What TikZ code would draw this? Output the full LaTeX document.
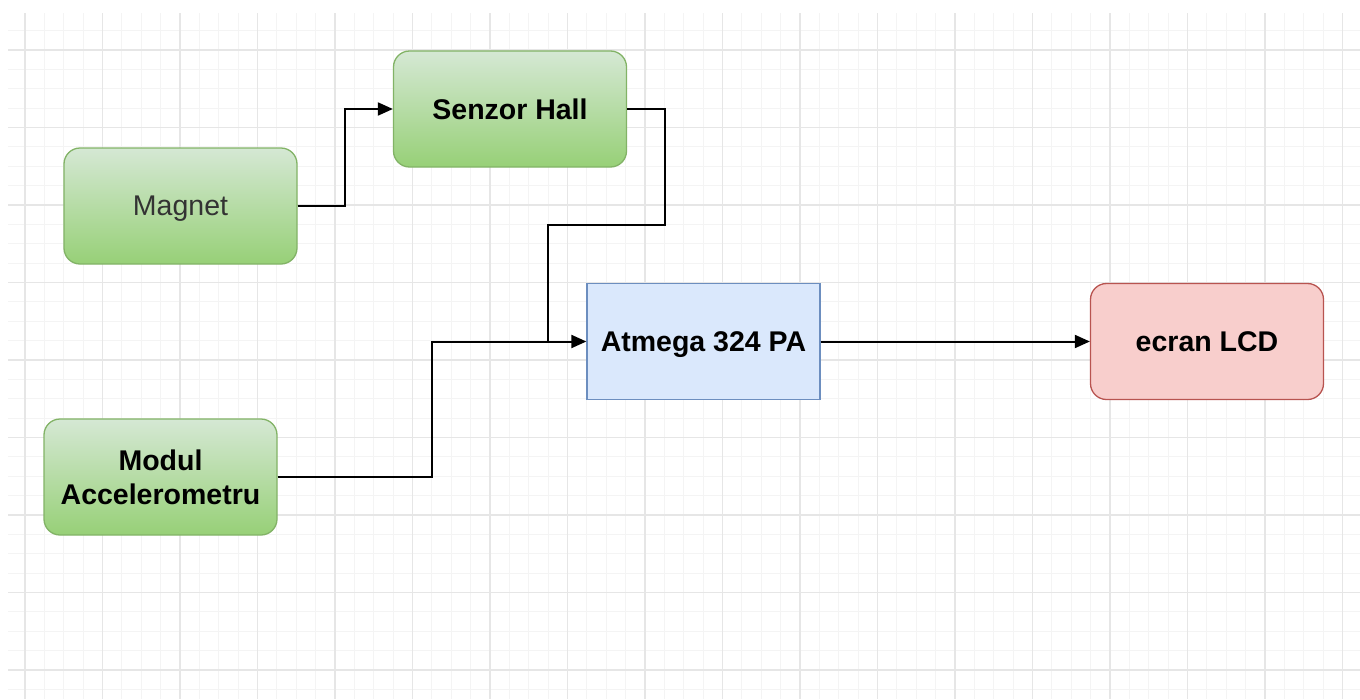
\documentclass[tikz,border=0pt]{standalone}
\usepackage{fontspec}
\setmainfont{Liberation Sans}
\usetikzlibrary{arrows.meta}
\definecolor{gfillA}{HTML}{D5E8D4}
\definecolor{gfillB}{HTML}{97D077}
\definecolor{gline}{HTML}{82B366}
\definecolor{bfill}{HTML}{DAE8FC}
\definecolor{bline}{HTML}{6C8EBF}
\definecolor{rfill}{HTML}{F8CECC}
\definecolor{rline}{HTML}{B85450}
\definecolor{gridminor}{HTML}{F4F4F4}
\definecolor{gridmajor}{HTML}{E6E6E6}
\definecolor{txtgray}{HTML}{333333}
\tikzset{
  box/.style={minimum width=233pt, minimum height=116pt, inner sep=0pt, align=center,
    text depth=0pt, line width=1.3pt, font=\fontsize{28.5}{34}\selectfont\bfseries},
  greenbox/.style={box, rounded corners=16pt, draw=gline, top color=gfillA, bottom color=gfillB},
  bluebox/.style={box, draw=bline, fill=bfill},
  redbox/.style={box, rounded corners=16pt, draw=rline, fill=rfill},
  conn/.style={line width=2pt, draw=black},
  arr/.style={conn, -{Triangle[length=15pt, width=13pt]}},
}
\begin{document}
\begin{tikzpicture}[x=1pt, y=-1pt]
\useasboundingbox (0,0) rectangle (1360,699);
\fill[white] (0,0) rectangle (1360,699);
\begin{scope}
\clip (8,13) rectangle (1360,699);
\foreach \i in {-1,...,72} {
  \draw[gridminor, line width=1pt] ({25+19.375*\i},13) -- ({25+19.375*\i},699);
}
\foreach \i in {-3,...,36} {
  \draw[gridminor, line width=1pt] (8,{50+19.375*\i}) -- (1360,{50+19.375*\i});
}
\foreach \i in {0,...,17} {
  \draw[gridmajor, line width=1.2pt] ({25+77.5*\i},13) -- ({25+77.5*\i},699);
}
\foreach \i in {0,...,8} {
  \draw[gridmajor, line width=1.2pt] (8,{50+77.5*\i}) -- (1360,{50+77.5*\i});
}
\end{scope}

\node[greenbox] (hall) at (510,109) {Senzor Hall};
\node[greenbox, font=\fontsize{28.5}{34}\selectfont\mdseries, text=txtgray] (mag) at (180.5,206) {Magnet};
\node[bluebox] (atm) at (703.5,341.5) {Atmega 324 PA};
\node[redbox] (lcd) at (1207,341.5) {ecran LCD};
\node[greenbox] (mod) at (160.5,477) {Modul\\Accelerometru};

\coordinate (b1) at (345,206);
\coordinate (b2) at (665,225);
\coordinate (b3) at (548,341.5);
\coordinate (b4) at (432,341.5);

\draw[arr] (mag.east) -- (b1) |- (hall.west);
\draw[conn] (hall.east) -| (b2) -| (b3);
\draw[arr] (b3) -- (atm.west);
\draw[conn] (mod.east) -| (b4) -- (b3);
\draw[arr] (atm.east) -- (lcd.west);
\end{tikzpicture}
\end{document}
